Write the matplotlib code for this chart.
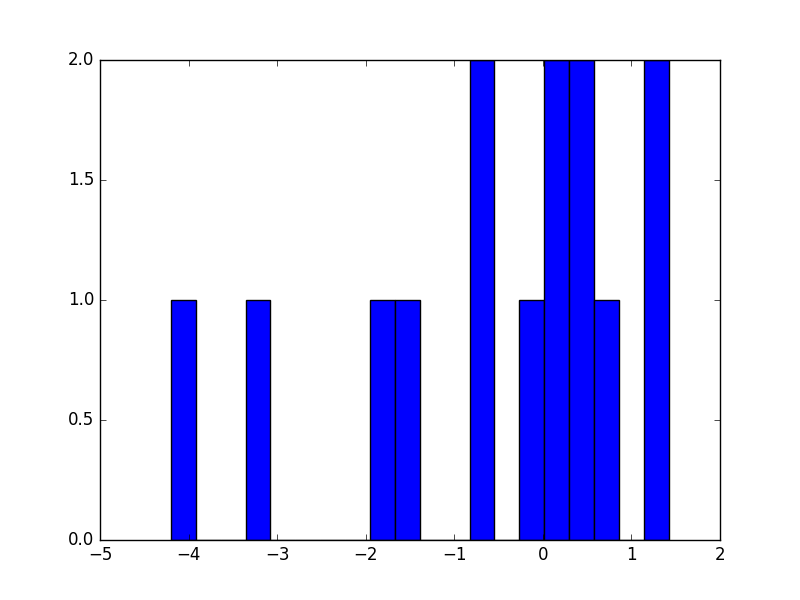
import numpy as np
import matplotlib
matplotlib.use('Agg')
import matplotlib.pyplot as plt

plt.style.use('classic')

# histogram: 20 bins between data min and max
data_min = -4.2
data_max = 1.42
counts = [1, 0, 0, 1, 0, 0, 0, 0, 1, 1, 0, 0, 2, 0, 1, 2, 2, 1, 0, 2]

edges = np.linspace(data_min, data_max, len(counts) + 1)

fig = plt.figure(figsize=(8, 6), dpi=100)
ax = fig.add_subplot(111)
ax.hist(edges[:-1], bins=edges, weights=counts, color='#0000ff', edgecolor='black')
ax.set_xlim(-5, 2)
ax.set_ylim(0, 2)

plt.savefig('out.png', dpi=100)
